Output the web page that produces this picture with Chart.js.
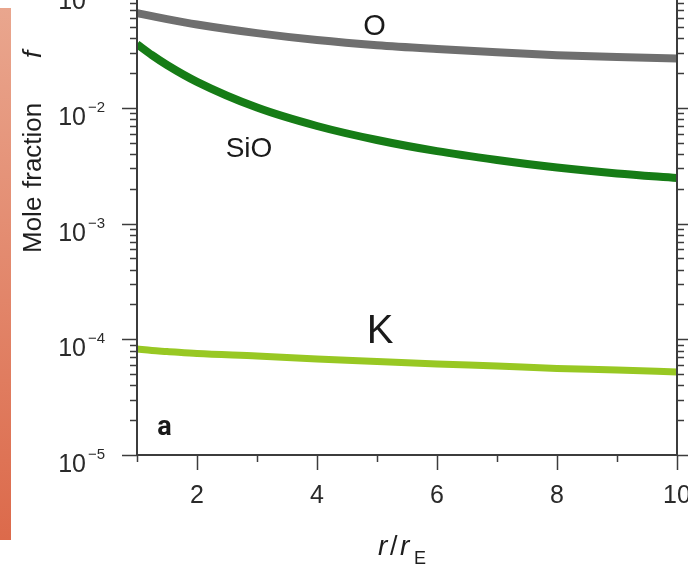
<!DOCTYPE html>
<html>
<head>
<meta charset="utf-8">
<script src="https://cdn.jsdelivr.net/npm/chart.js@4"></script>
<style>
  body { margin: 0; background: #fff; }
  canvas { display: block; }
</style>
</head>
<body>
<canvas id="grafico" width="688" height="568"></canvas>
<script>
// ===== dados =====
const raio = [1, 1.25, 1.5, 2, 3, 4, 5, 6, 7, 8, 9, 10];
const fracaoO   = [0.0661, 0.0622, 0.0586, 0.0526, 0.0443, 0.0386, 0.0348, 0.0323, 0.0303, 0.0286, 0.0275, 0.0267];
const fracaoSiO = [0.0356, 0.0286, 0.0235, 0.0168, 0.01007, 0.00698, 0.00528, 0.00423, 0.00355, 0.00305, 0.00271, 0.00248];
const fracaoK   = [8.24e-5, 8.0e-5, 7.85e-5, 7.54e-5, 7.17e-5, 6.76e-5, 6.43e-5, 6.12e-5, 5.87e-5, 5.60e-5, 5.43e-5, 5.21e-5];

const ticksX = [2, 4, 6, 8, 10];
const ticksXMenores = [1, 3, 5, 7, 9];
const expoentesY = [-5, -4, -3, -2, -1];

function pontos(valores) {
    return raio.map((r, i) => ({ x: r, y: valores[i] }));
}

const FONTE = '"Liberation Sans", Arimo, Arial, sans-serif';
const FONTE_NEGRITO = 'Roboto, "DejaVu Sans", sans-serif';

// ===== eixos, textos e barra lateral =====
const moldura = {
    id: "moldura",
    beforeDraw(chart) {
        const ctx = chart.ctx;
        const grad = ctx.createLinearGradient(0, 8, 0, 540);
        grad.addColorStop(0, "#e9a68e");
        grad.addColorStop(1, "#dc6a4b");
        ctx.fillStyle = grad;
        ctx.fillRect(0, 8, 11, 532);
    },
    afterDraw(chart) {
        const ctx = chart.ctx;
        const a = chart.chartArea;
        const sx = chart.scales.x;
        const sy = chart.scales.y;
        ctx.save();

        // linhas dos eixos
        ctx.strokeStyle = "#3c3c3c";
        ctx.lineWidth = 2;
        ctx.beginPath();
        ctx.moveTo(a.left, a.top); ctx.lineTo(a.left, a.bottom);
        ctx.lineTo(a.right, a.bottom); ctx.lineTo(a.right, a.top);
        ctx.stroke();

        // ticks do eixo y (log)
        ctx.lineWidth = 1.5;
        ctx.beginPath();
        expoentesY.forEach(e => {
            for (let m = 1; m <= 9; m++) {
                const py = Math.round(sy.getPixelForValue(m * Math.pow(10, e))) + 0.5;
                if (py < a.top - 2 || py > a.bottom + 1) continue;
                const len = m === 1 ? 15 : 7;
                ctx.moveTo(a.left - len, py); ctx.lineTo(a.left, py);
                ctx.moveTo(a.right, py); ctx.lineTo(a.right + len, py);
            }
        });
        // ticks do eixo x
        ticksX.forEach(v => {
            const px = Math.round(sx.getPixelForValue(v)) + 0.5;
            ctx.moveTo(px, a.bottom); ctx.lineTo(px, a.bottom + 15);
        });
        ticksXMenores.forEach(v => {
            const px = Math.round(sx.getPixelForValue(v)) + 0.5;
            ctx.moveTo(px, a.bottom); ctx.lineTo(px, a.bottom + 7);
        });
        ctx.stroke();

        // rótulos do eixo x
        ctx.fillStyle = "#2a2a2a";
        ctx.font = "25px " + FONTE;
        ctx.textAlign = "center";
        ctx.textBaseline = "alphabetic";
        ticksX.forEach(v => {
            ctx.fillText(String(v), sx.getPixelForValue(v), 503);
        });

        // rótulos do eixo y: 10^e
        expoentesY.forEach(e => {
            const py = sy.getPixelForValue(Math.pow(10, e));
            ctx.font = "25px " + FONTE;
            ctx.textAlign = "right";
            ctx.fillText("10", 86, py + 17);
            ctx.font = "15px " + FONTE;
            ctx.textAlign = "left";
            ctx.fillText("\u2212" + Math.abs(e), 88, py + 4);
        });

        // título do eixo y
        ctx.save();
        ctx.translate(41, 0);
        ctx.rotate(-Math.PI / 2);
        ctx.textAlign = "left";
        ctx.fillStyle = "#1e1e1e";
        ctx.font = "26px " + FONTE;
        ctx.fillText("Mole", -253, 0);
        ctx.fillText("fraction", -188, 0);
        ctx.font = "italic 26px " + FONTE;
        ctx.fillText("f", -58, 0);
        ctx.restore();

        // título do eixo x
        ctx.fillStyle = "#1e1e1e";
        ctx.textAlign = "left";
        ctx.font = "italic 28px " + FONTE;
        ctx.fillText("r", 378, 555);
        ctx.font = "27px " + FONTE;
        ctx.fillText("/", 390, 555);
        ctx.font = "italic 28px " + FONTE;
        ctx.fillText("r", 400, 555);
        ctx.font = "18px " + FONTE;
        ctx.fillText("E", 414, 564);

        // nomes das curvas
        ctx.textAlign = "center";
        ctx.fillStyle = "#1a1a1a";
        ctx.font = "29px " + FONTE;
        ctx.fillText("O", 374.5, 35);
        ctx.font = "28px " + FONTE;
        ctx.fillText("SiO", 249, 157);
        ctx.font = "40px " + FONTE;
        ctx.fillText("K", 380, 343);
        ctx.font = "bold 27px " + FONTE_NEGRITO;
        ctx.fillText("a", 164.5, 435);

        ctx.restore();
    }
};

// ===== gráfico =====
new Chart(document.getElementById("grafico"), {
    type: "line",
    data: {
        datasets: [
            { label: "O", data: pontos(fracaoO), borderColor: "#6f6f6f", borderWidth: 8 },
            { label: "SiO", data: pontos(fracaoSiO), borderColor: "#167c16", borderWidth: 8 },
            { label: "K", data: pontos(fracaoK), borderColor: "#98c823", borderWidth: 7 }
        ]
    },
    options: {
        responsive: false,
        animation: false,
        layout: { padding: { left: 137, right: 11, top: 0, bottom: 113 } },
        elements: {
            point: { radius: 0 },
            line: { cubicInterpolationMode: "monotone", fill: false }
        },
        scales: {
            x: { type: "linear", min: 1, max: 10, display: false },
            y: { type: "logarithmic", min: 1e-5, max: 0.0857, display: false }
        },
        plugins: {
            legend: { display: false },
            tooltip: { enabled: false }
        }
    },
    plugins: [moldura]
});
</script>
</body>
</html>
